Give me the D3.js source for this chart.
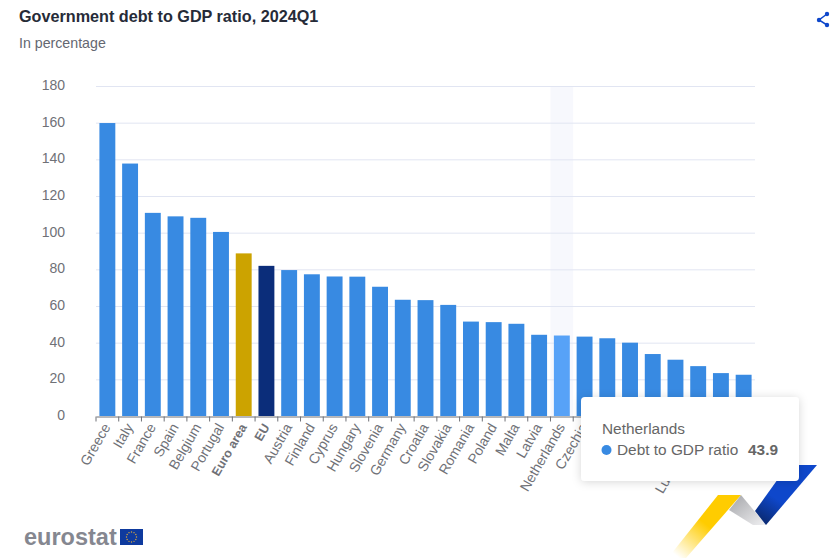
<!DOCTYPE html>
<html>
<head>
<meta charset="utf-8">
<script src="https://cdn.jsdelivr.net/npm/d3@7"></script>
<style>
  html, body { margin: 0; padding: 0; background: #fff; }
  svg { display: block; font-family: "Liberation Sans", Arial, sans-serif; }
  .tick text { fill: #6f7177; }
</style>
</head>
<body>
<svg id="chart" width="838" height="558"></svg>
<script>
const categories = ['Greece', 'Italy', 'France', 'Spain', 'Belgium', 'Portugal', 'Euro area', 'EU',
    'Austria', 'Finland', 'Cyprus', 'Hungary', 'Slovenia', 'Germany', 'Croatia', 'Slovakia',
    'Romania', 'Poland', 'Malta', 'Latvia', 'Netherlands', 'Czechia', 'Ireland', 'Lithuania',
    'Sweden', 'Denmark', 'Luxembourg', 'Bulgaria', 'Estonia'];
const debtValues = [159.8, 137.7, 110.8, 108.9, 108.1, 100.4, 88.7, 81.9,
    79.6, 77.3, 76.1, 76.0, 70.5, 63.4, 63.2, 60.6,
    51.5, 51.2, 50.3, 44.3, 43.9, 43.3, 42.4, 40.0,
    33.8, 30.7, 27.2, 23.4, 22.5];
const yTicks = [0, 20, 40, 60, 80, 100, 120, 140, 160, 180];
const hovered = 'Netherlands';

const barColor = d => d === 'Euro area' ? '#cca300' : d === 'EU' ? '#0b2d7a' : d === hovered ? '#57a2f7' : '#388ae2';

const svg = d3.select('#chart');
const x = d3.scaleBand().domain(categories).range([96, 755]).paddingInner(0.3).paddingOuter(0.15);
const y = d3.scaleLinear().domain([0, 180]).range([416, 86]);

const defs = svg.append('defs');
function gradient(id, x1, y1, x2, y2, stops) {
    const g = defs.append('linearGradient').attr('id', id)
        .attr('x1', x1).attr('y1', y1).attr('x2', x2).attr('y2', y2);
    stops.forEach(s => g.append('stop').attr('offset', s[0]).attr('stop-color', s[1]).attr('stop-opacity', s[2]));
}
gradient('gold', 0.9, 0.1, 0.1, 0.95, [[0, '#ffcc00', 1], [0.45, '#ffcc00', 1], [1, '#ffcc00', 0]]);
gradient('grey', 0, 0, 1, 1, [[0, '#a3a4a8', 1], [1, '#f0f0f2', 1]]);
gradient('blue', 0.75, 0.1, 0.2, 0.95, [[0, '#0e47cb', 1], [0.6, '#0e47cb', 1], [1, '#0b2d7a', 1]]);
const shadow = defs.append('filter').attr('id', 'shadow').attr('x', '-10%').attr('y', '-15%').attr('width', '120%').attr('height', '135%');
shadow.append('feDropShadow').attr('dx', 0).attr('dy', 1).attr('stdDeviation', 5).attr('flood-color', '#000').attr('flood-opacity', 0.16);

// decoration in the bottom right corner
svg.append('path').attr('d', 'M718 495H741L686 558H668Z').attr('fill', 'url(#gold)');
svg.append('path').attr('d', 'M741 495L766 525L753 525L729 510Z').attr('fill', 'url(#grey)');
svg.append('path').attr('d', 'M788 465H817L766 525L755 511Z').attr('fill', 'url(#blue)');

// hover band
svg.append('rect')
    .attr('x', x(hovered) - x.step() * x.paddingInner() / 2)
    .attr('y', y(180))
    .attr('width', x.step())
    .attr('height', y(0) - y(180))
    .attr('fill', '#f7f8fd');

// y axis with grid lines
const yAxis = svg.append('g')
    .attr('transform', 'translate(96,0)')
    .call(d3.axisLeft(y).tickValues(yTicks).tickSize(0).tickPadding(31));
yAxis.select('.domain').remove();
yAxis.selectAll('.tick text').attr('font-size', 14).attr('dy', '0.25em').attr('font-family', '"Liberation Sans", Arial, sans-serif');
yAxis.selectAll('.tick').filter(d => d > 0).append('line')
    .attr('x1', 0).attr('x2', 659).attr('stroke', '#e1e5f2').attr('stroke-width', 1);

// bars
svg.append('g').selectAll('rect')
    .data(categories)
    .join('rect')
    .attr('x', d => x(d))
    .attr('y', (d, i) => y(debtValues[i]))
    .attr('width', x.bandwidth())
    .attr('height', (d, i) => y(0) - y(debtValues[i]))
    .attr('fill', barColor);

// x axis
const xAxis = svg.append('g')
    .attr('transform', 'translate(0,416.5)')
    .call(d3.axisBottom(x).tickSize(0));
xAxis.select('.domain').attr('stroke', '#6f7177').attr('stroke-width', 1);
xAxis.selectAll('.tick text')
    .attr('font-size', d => d === 'Euro area' || d === 'EU' ? 12.5 : 14)
    .attr('font-family', '"Liberation Sans", Arial, sans-serif')
    .attr('font-weight', d => d === 'Euro area' || d === 'EU' ? 700 : 400)
    .attr('text-anchor', 'end')
    .attr('dy', 0)
    .attr('transform', d => 'translate(1,9) rotate(-60)');
const edges = d3.range(categories.length + 1).map(i => 96 + i * x.step());
xAxis.selectAll('line.edge')
    .data(edges)
    .join('line')
    .attr('class', 'edge')
    .attr('x1', d => d).attr('x2', d => d)
    .attr('y1', 0).attr('y2', 5)
    .attr('stroke', '#6f7177');

// title
svg.append('text').attr('x', 19).attr('y', 22).attr('font-size', 16.2).attr('font-weight', 700)
    .attr('fill', '#262b38').text('Government debt to GDP ratio, 2024Q1');
svg.append('text').attr('x', 19).attr('y', 48).attr('font-size', 14.2)
    .attr('fill', '#646771').text('In percentage');

// share icon
const share = svg.append('g').attr('stroke', '#0e47cb').attr('fill', '#0e47cb');
share.append('path').attr('d', 'M827 14L819 20L827 25').attr('fill', 'none').attr('stroke-width', 1.5);
[[827, 14], [819, 20], [827, 25]].forEach(p => share.append('circle').attr('cx', p[0]).attr('cy', p[1]).attr('r', 2.2).attr('stroke', 'none'));

// eurostat logo
svg.append('text').attr('x', 24).attr('y', 545).attr('font-size', 23.5).attr('font-weight', 700)
    .attr('fill', '#858790').text('eurostat');
svg.append('rect').attr('x', 120).attr('y', 529).attr('width', 23).attr('height', 16).attr('fill', '#0e3a9e');
const stars = svg.append('g').attr('fill', '#d9a93c');
d3.range(12).forEach(i => stars.append('circle')
    .attr('cx', 131.5 + 5 * Math.cos(i * Math.PI / 6))
    .attr('cy', 537 + 5 * Math.sin(i * Math.PI / 6))
    .attr('r', 0.7));

// tooltip
const tip = svg.append('g').attr('transform', 'translate(581,397)');
tip.append('rect').attr('width', 218).attr('height', 84).attr('rx', 4)
    .attr('fill', '#fff').attr('filter', 'url(#shadow)');
tip.append('text').attr('x', 21).attr('y', 37).attr('font-size', 15.4).attr('fill', '#666').text(hovered);
tip.append('circle').attr('cx', 25.5).attr('cy', 53).attr('r', 5).attr('fill', '#388ae2');
tip.append('text').attr('x', 36).attr('y', 58).attr('font-size', 15.4).attr('fill', '#666').text('Debt to GDP ratio');
tip.append('text').attr('x', 197).attr('y', 58).attr('font-size', 15.4).attr('font-weight', 700)
    .attr('text-anchor', 'end').attr('fill', '#666').text(debtValues[categories.indexOf(hovered)]);
</script>
</body>
</html>
